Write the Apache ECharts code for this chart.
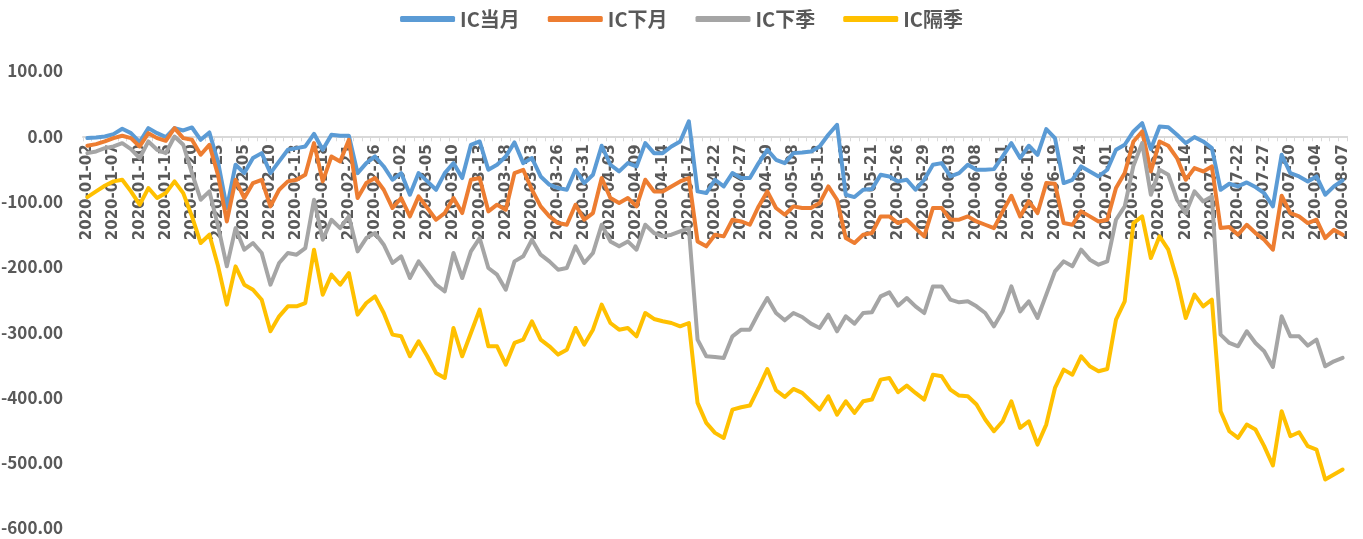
<!DOCTYPE html>
<html>
<head>
<meta charset="utf-8">
<script src="https://cdn.jsdelivr.net/npm/echarts@6/dist/echarts.min.js"></script>
<style>
  html, body { margin: 0; padding: 0; background: #fff; }
  #main { width: 1363px; height: 539px; }
</style>
</head>
<body>
<div id="main"></div>
<script>
var dates = [
  '2020-01-02','2020-01-03','2020-01-06','2020-01-07','2020-01-08','2020-01-09','2020-01-10','2020-01-13','2020-01-14','2020-01-15','2020-01-16','2020-01-17','2020-01-20','2020-01-21','2020-01-22','2020-01-23',
  '2020-02-03','2020-02-04','2020-02-05','2020-02-06','2020-02-07','2020-02-10','2020-02-11','2020-02-12','2020-02-13','2020-02-14','2020-02-17','2020-02-18','2020-02-19','2020-02-20','2020-02-21','2020-02-24','2020-02-25','2020-02-26','2020-02-27','2020-02-28',
  '2020-03-02','2020-03-03','2020-03-04','2020-03-05','2020-03-06','2020-03-09','2020-03-10','2020-03-11','2020-03-12','2020-03-13','2020-03-16','2020-03-17','2020-03-18','2020-03-19','2020-03-20','2020-03-23','2020-03-24','2020-03-25','2020-03-26','2020-03-27','2020-03-30','2020-03-31',
  '2020-04-01','2020-04-02','2020-04-03','2020-04-07','2020-04-08','2020-04-09','2020-04-10','2020-04-13','2020-04-14','2020-04-15','2020-04-16','2020-04-17','2020-04-20','2020-04-21','2020-04-22','2020-04-23','2020-04-24','2020-04-27','2020-04-28','2020-04-29','2020-04-30',
  '2020-05-06','2020-05-07','2020-05-08','2020-05-11','2020-05-12','2020-05-13','2020-05-14','2020-05-15','2020-05-18','2020-05-19','2020-05-20','2020-05-21','2020-05-22','2020-05-25','2020-05-26','2020-05-27','2020-05-28','2020-05-29',
  '2020-06-01','2020-06-02','2020-06-03','2020-06-04','2020-06-05','2020-06-08','2020-06-09','2020-06-10','2020-06-11','2020-06-12','2020-06-15','2020-06-16','2020-06-17','2020-06-18','2020-06-19','2020-06-22','2020-06-23','2020-06-24','2020-06-29','2020-06-30',
  '2020-07-01','2020-07-02','2020-07-03','2020-07-06','2020-07-07','2020-07-08','2020-07-09','2020-07-10','2020-07-13','2020-07-14','2020-07-15','2020-07-16','2020-07-17','2020-07-20','2020-07-21','2020-07-22','2020-07-23','2020-07-24','2020-07-27','2020-07-28','2020-07-29','2020-07-30','2020-07-31',
  '2020-08-03','2020-08-04','2020-08-05','2020-08-06','2020-08-07'
];

// IC当月
var icCurrent = [
  -2.8,-1.8,-0.3,3.3,11.5,4.8,-8.9,12.5,4.8,-1.3,12.5,8.9,13.5,-5.4,5.9,-40,
  -110,-43.6,-56.4,-33.4,-25.8,-56.4,-38.5,-20.7,-18.1,-15.6,3.8,-20.7,2.3,0.8,0.8,-56.4,-41.1,-30.9,-46.2,-66.6,
  -56.4,-89.5,-56.4,-69.1,-81.9,-56.4,-41.1,-64.0,-13.0,-7.9,-51.3,-43.6,-30.9,-9.4,-41.1,-33.4,-61.5,-74.2,-79.3,-81.9,-51.3,-71.7,
  -58.9,-14.5,-43.6,-53.8,-41.1,-46.2,-10.5,-25.8,-25.8,-15.6,-7.9,23,-84.4,-87.0,-66.6,-76.8,-56.4,-64.0,-64.0,-41.1,-20.7,
  -36.0,-41.1,-25.8,-24.7,-23.2,-15.6,2.3,17.6,-89.5,-93.1,-81.9,-80.9,-58.9,-61.5,-69.1,-66.6,-81.9,-66.6,
  -43.6,-41.1,-61.5,-56.4,-43.6,-51.3,-51.3,-50.3,-30.9,-10.5,-33.4,-14.5,-28.3,11.0,-2.8,-71.7,-66.6,-46.2,-53.8,-61.5,
  -51.3,-20.7,-13.0,7.4,20.2,-19.6,15.0,14.0,2.3,-10.5,-1.3,-7.9,-18.1,-81.9,-72.7,-76.8,-70.7,-77.8,-87.0,-107.4,-28.3,-56.4,-61.5,
  -69.1,-61.5,-89.5,-76.8,-67.6
];

// IC下月
var icNext = [
  -14.5,-12.0,-7.9,-2.8,0.8,-2.8,-15.6,4.8,-2.8,-6.9,12.5,-2.8,-5.4,-28.3,-13.0,-60,
  -130.4,-66.6,-94.6,-71.7,-66.6,-107.4,-81.9,-69.1,-66.6,-58.9,-10.5,-69.1,-30.9,-38.5,-5.4,-94.6,-71.7,-64.0,-81.9,-109.9,
  -94.6,-122.7,-92.1,-109.9,-127.8,-117.6,-94.6,-117.6,-66.6,-64.0,-115.0,-104.8,-112.5,-56.4,-51.3,-81.9,-107.4,-122.7,-132.9,-135.5,-104.8,-127.8,
  -117.6,-64.0,-94.6,-102.3,-94.6,-107.4,-66.6,-84.4,-84.4,-76.8,-69.1,-64.0,-161.0,-168.6,-150.8,-153.3,-127.8,-130.4,-135.5,-107.4,-84.4,
  -109.9,-120.2,-107.4,-109.9,-109.9,-102.3,-76.8,-97.2,-155.9,-163.5,-150.8,-148.2,-122.7,-122.7,-132.9,-127.8,-140.6,-153.3,
  -109.9,-109.9,-127.8,-127.8,-122.7,-130.4,-135.5,-140.6,-115.0,-91.1,-122.7,-99.7,-117.6,-71.7,-72.7,-132.9,-135.5,-115.0,-122.7,-130.4,
  -127.8,-79.3,-56.4,-7.9,7.4,-53.8,-7.9,-14.5,-33.4,-66.6,-48.7,-53.8,-46.2,-140.6,-139.0,-150.8,-135.5,-148.2,-158.4,-173.7,-91.1,-117.6,-122.7,
  -132.9,-127.8,-155.9,-143.1,-150.8
];

// IC下季
var icNextQuarter = [
  -25.8,-23.2,-18.1,-15.6,-10.5,-19.6,-33.4,-7.9,-20.7,-25.8,-0.3,-13.0,-56.4,-97.2,-84.4,-138.0,
  -199.2,-140.6,-173.7,-163.5,-178.8,-227.3,-194.1,-178.8,-181.4,-171.2,-97.2,-158.4,-127.8,-140.6,-122.7,-176.3,-155.9,-148.2,-166.1,-194.1,
  -183.9,-217.1,-191.6,-209.4,-227.3,-237.5,-178.8,-217.1,-176.3,-155.9,-201.8,-212.0,-235.0,-191.6,-183.9,-158.4,-181.4,-191.6,-204.3,-201.8,-168.6,-194.1,
  -178.8,-135.5,-161.0,-168.6,-161.0,-173.7,-135.5,-148.2,-153.3,-150.8,-145.7,-140.6,-311.5,-337.0,-338.0,-339.5,-306.4,-296.2,-296.2,-270.7,-247.7,
  -270.7,-281.9,-270.7,-276.8,-287.0,-293.6,-273.2,-298.7,-275.8,-287.0,-270.7,-269.6,-245.2,-239.0,-259.4,-247.7,-260.5,-270.7,
  -229.9,-229.9,-250.3,-254.3,-252.8,-260.5,-270.7,-291.1,-268.1,-229.9,-268.1,-252.8,-278.3,-242.6,-206.9,-191.6,-199.2,-173.7,-189.0,-196.7,
  -191.6,-127.8,-107.4,-45,-10.5,-89.5,-51.3,-58.9,-97.2,-117.6,-84.4,-99.7,-92.1,-303.8,-316.6,-321.7,-298.7,-316.6,-329.3,-353.3,-275.8,-306.4,-306.4,
  -320.7,-311.5,-352.3,-344.6,-339.5
];

// IC隔季
var icFarQuarter = [
  -93.1,-84.4,-75.8,-69.1,-66.6,-84.4,-104.8,-79.3,-94.6,-87.0,-69.1,-87.0,-122.7,-163.5,-150.8,-199.2,
  -257.9,-199.2,-227.3,-235.0,-250.3,-298.7,-275.8,-260.5,-260.5,-255.4,-173.7,-242.6,-212.0,-227.3,-209.4,-273.2,-255.4,-245.2,-270.7,-303.8,
  -306.4,-337.0,-314.0,-337.0,-362.5,-370.2,-293.6,-337.0,-301.3,-265.6,-321.7,-321.7,-349.7,-316.6,-311.5,-283.4,-311.5,-321.7,-334.4,-326.8,-293.6,-319.1,
  -296.2,-257.9,-286.0,-296.2,-293.6,-306.4,-270.7,-279.8,-283.4,-286.0,-291.1,-286.0,-408.4,-439.0,-454.3,-462.0,-418.6,-415.0,-412.5,-385.5,-356.4,
  -389.0,-399.2,-387.0,-393.1,-405.9,-418.6,-398.2,-426.3,-405.9,-423.7,-405.9,-403.3,-372.7,-370.2,-392.1,-381.9,-393.1,-403.3,
  -365.1,-367.6,-388.0,-397.2,-398.2,-410.9,-433.9,-451.8,-436.5,-405.9,-446.7,-436.5,-472.2,-441.6,-385.5,-357.4,-365.1,-337.0,-352.3,-359.9,
  -356.4,-280.9,-252.8,-132.9,-122.7,-186.5,-153.3,-173.7,-219.6,-278.3,-242.6,-260.5,-250.3,-421.2,-451.8,-462.0,-441.6,-449.2,-474.7,-504.3,-421.2,-459.4,-453.3,
  -474.7,-479.8,-525.8,-518.1,-510.5
];

var seriesNames = ['IC当月', 'IC下月', 'IC下季', 'IC隔季'];
var seriesColors = ['#5B9BD5', '#ED7D31', '#A5A5A5', '#FFC000'];
var seriesData = [icCurrent, icNext, icNextQuarter, icFarQuarter];

var yMin = -600, yMax = 100;
var gridTop = 71, gridBottom = 11, chartH = 539;

var font = '"Noto Sans CJK SC", "Noto Sans", sans-serif';

// x axis sits on the zero line, inside the plot
var plotH = chartH - gridTop - gridBottom;
var zeroOffset = -plotH * (0 - yMin) / (yMax - yMin);

var chart = echarts.init(document.getElementById('main'));

var option = {
  backgroundColor: '#fff',
  animation: false,
  textStyle: { fontFamily: font },
  legend: {
    top: 4,
    left: 'center',
    itemWidth: 55,
    itemHeight: 6,
    itemGap: 28,
    icon: 'roundRect',
    textStyle: { color: '#595959', fontSize: 20, fontWeight: 'bold', fontFamily: font },
    data: seriesNames
  },
  grid: { left: 83, right: 16, top: gridTop, bottom: gridBottom, outerBoundsMode: 'none', containLabel: false },
  xAxis: {
    type: 'category',
    data: dates,
    boundaryGap: true,
    offset: zeroOffset,
    z: 0,
    axisLine: { onZero: false, lineStyle: { color: '#D9D9D9', width: 2 } },
    axisTick: { show: true, interval: 0, length: 5, lineStyle: { color: '#D9D9D9' } },
    axisLabel: {
      interval: 2,
      rotate: 90,
      color: '#595959',
      fontSize: 15,
      fontWeight: 'bold',
      fontFamily: '"DejaVu Sans", sans-serif',
      margin: 8
    },
    splitLine: { show: false }
  },
  yAxis: {
    type: 'value',
    min: yMin,
    max: yMax,
    interval: 100,
    axisLine: { show: false },
    axisTick: { show: false },
    splitLine: { show: false },
    axisLabel: {
      color: '#595959',
      fontSize: 17,
      fontWeight: 'bold',
      fontFamily: font,
      margin: 20,
      formatter: function (v) { return v.toFixed(2); }
    }
  },
  series: seriesNames.map(function (name, k) {
    return {
      name: name,
      type: 'line',
      z: 3,
      data: seriesData[k],
      symbol: 'none',
      color: seriesColors[k],
      lineStyle: { width: 4, color: seriesColors[k], cap: 'round', join: 'round' }
    };
  })
};

chart.setOption(option);
</script>
</body>
</html>
